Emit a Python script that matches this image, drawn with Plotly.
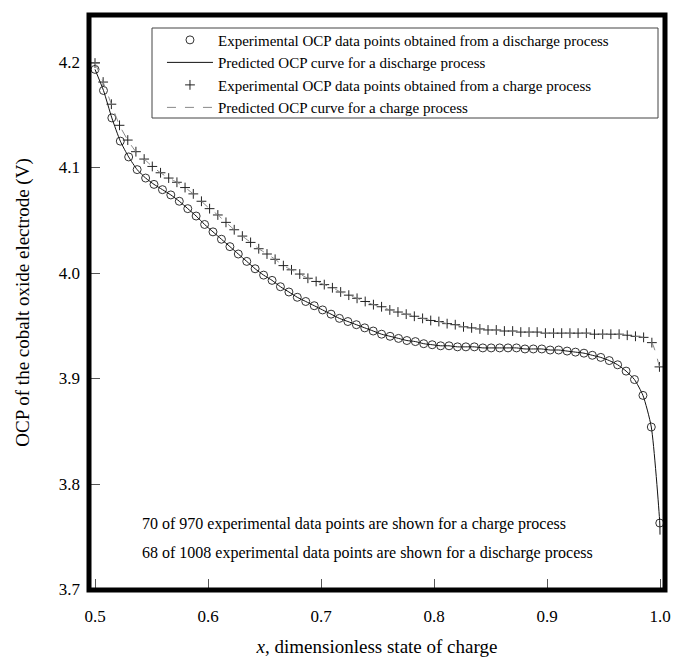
import plotly.graph_objects as go

# Experimental OCP, discharge process (68 shown points)
dis_x = [0.5000, 0.5075, 0.5149, 0.5224, 0.5298, 0.5373, 0.5448, 0.5522, 0.5597, 0.5671,
         0.5746, 0.5821, 0.5895, 0.5970, 0.6044, 0.6119, 0.6194, 0.6268, 0.6343, 0.6417,
         0.6492, 0.6567, 0.6641, 0.6716, 0.6790, 0.6865, 0.6940, 0.7014, 0.7089, 0.7163,
         0.7238, 0.7313, 0.7387, 0.7462, 0.7536, 0.7611, 0.7686, 0.7760, 0.7835, 0.7909,
         0.7984, 0.8059, 0.8133, 0.8208, 0.8282, 0.8357, 0.8432, 0.8506, 0.8581, 0.8655,
         0.8730, 0.8805, 0.8879, 0.8954, 0.9028, 0.9103, 0.9178, 0.9252, 0.9327, 0.9401,
         0.9476, 0.9551, 0.9625, 0.9700, 0.9774, 0.9849, 0.9923, 0.9998]
dis_y = [4.193, 4.173, 4.147, 4.125, 4.110, 4.098, 4.090, 4.084, 4.079, 4.074,
         4.068, 4.061, 4.054, 4.046, 4.039, 4.032, 4.025, 4.018, 4.011, 4.004,
         3.998, 3.993, 3.987, 3.982, 3.977, 3.973, 3.969, 3.965, 3.961, 3.957,
         3.954, 3.951, 3.948, 3.945, 3.942, 3.940, 3.938, 3.936, 3.935, 3.933,
         3.932, 3.931, 3.931, 3.930, 3.930, 3.930, 3.929, 3.929, 3.929, 3.929,
         3.929, 3.928, 3.928, 3.928, 3.927, 3.927, 3.926, 3.925, 3.924, 3.922,
         3.920, 3.917, 3.913, 3.907, 3.899, 3.884, 3.854, 3.763]

# Experimental OCP, charge process (70 shown points)
chg_x = [0.5000, 0.5072, 0.5145, 0.5217, 0.5290, 0.5362, 0.5435, 0.5507, 0.5580, 0.5652,
         0.5725, 0.5797, 0.5870, 0.5942, 0.6014, 0.6087, 0.6159, 0.6232, 0.6304, 0.6377,
         0.6449, 0.6522, 0.6594, 0.6667, 0.6739, 0.6812, 0.6884, 0.6957, 0.7029, 0.7101,
         0.7174, 0.7246, 0.7319, 0.7391, 0.7464, 0.7536, 0.7609, 0.7681, 0.7754, 0.7826,
         0.7899, 0.7971, 0.8043, 0.8116, 0.8188, 0.8261, 0.8333, 0.8406, 0.8478, 0.8551,
         0.8623, 0.8696, 0.8768, 0.8841, 0.8913, 0.8986, 0.9058, 0.9130, 0.9203, 0.9275,
         0.9348, 0.9420, 0.9493, 0.9565, 0.9638, 0.9710, 0.9783, 0.9855, 0.9928, 0.9995]
chg_y = [4.199, 4.181, 4.160, 4.140, 4.126, 4.115, 4.108, 4.101, 4.095, 4.090,
         4.086, 4.081, 4.075, 4.068, 4.061, 4.055, 4.048, 4.041, 4.035, 4.029,
         4.023, 4.018, 4.013, 4.007, 4.003, 3.999, 3.995, 3.992, 3.989, 3.986,
         3.982, 3.979, 3.976, 3.973, 3.970, 3.968, 3.965, 3.963, 3.961, 3.959,
         3.957, 3.955, 3.954, 3.952, 3.951, 3.949, 3.948, 3.947, 3.946, 3.946,
         3.945, 3.945, 3.944, 3.944, 3.944, 3.943, 3.943, 3.943, 3.943, 3.943,
         3.943, 3.942, 3.942, 3.942, 3.942, 3.941, 3.940, 3.939, 3.934, 3.911]

# Predicted OCP curves
pred_dis_x = dis_x + [1.0]
pred_dis_y = dis_y + [3.752]
pred_chg_x = chg_x
pred_chg_y = chg_y

x_ticks = [0.5, 0.6, 0.7, 0.8, 0.9, 1.0]
y_ticks = [3.7, 3.8, 3.9, 4.0, 4.1, 4.2]

FONT = "Liberation Serif, Times New Roman, serif"

fig = go.Figure()
fig.add_trace(go.Scatter(
    x=dis_x, y=dis_y, mode="markers",
    name="Experimental OCP data points obtained from a discharge process",
    marker=dict(symbol="circle-open", size=8, color="#333", line=dict(width=1, color="#333"))))
fig.add_trace(go.Scatter(
    x=pred_dis_x, y=pred_dis_y, mode="lines",
    name="Predicted OCP curve for a discharge process",
    line=dict(color="#111", width=1, shape="spline", smoothing=0.6)))
fig.add_trace(go.Scatter(
    x=chg_x, y=chg_y, mode="markers",
    name="Experimental OCP data points obtained from a charge process",
    marker=dict(symbol="cross-thin", size=7, color="#222", line=dict(width=1, color="#222"))))
fig.add_trace(go.Scatter(
    x=pred_chg_x, y=pred_chg_y, mode="lines",
    name="Predicted OCP curve for a charge process",
    line=dict(color="#888", width=1, dash="dash", shape="spline", smoothing=0.6)))

fig.update_layout(
    width=673, height=657,
    margin=dict(l=89, r=8, t=15, b=67, autoexpand=False),
    paper_bgcolor="white", plot_bgcolor="white",
    font=dict(family=FONT, size=16, color="black"),
    showlegend=True,
    legend=dict(
        x=0.1267, y=0.985, xanchor="left", yanchor="top",
        bgcolor="rgba(0,0,0,0)", borderwidth=0,
        font=dict(family=FONT, size=15, color="black"),
        itemwidth=46, tracegroupgap=0,
    ),
    xaxis=dict(
        range=[0.49469, 1.00442], tickvals=x_ticks, tickformat=".1f",
        ticks="inside", ticklen=11, tickwidth=1, tickcolor="#555",
        showgrid=False, zeroline=False, showline=False, automargin=False,
        tickfont=dict(family=FONT, size=17),
        title=dict(text="<i>x</i>, dimensionless state of charge",
                   font=dict(family=FONT, size=19), standoff=19),
        ticklabelstandoff=14,
    ),
    yaxis=dict(
        range=[3.69953, 4.24455], tickvals=y_ticks, tickformat=".1f",
        ticks="inside", ticklen=11, tickwidth=1, tickcolor="#555",
        showgrid=False, zeroline=False, showline=False, automargin=False,
        tickfont=dict(family=FONT, size=17),
        title=dict(text="OCP of the cobalt oxide electrode (V)",
                   font=dict(family=FONT, size=19), standoff=24),
        ticklabelstandoff=8,
    ),
    shapes=[
        dict(type="rect", xref="paper", yref="paper", x0=0, x1=1, y0=0, y1=1,
             line=dict(color="black", width=5), layer="above"),
        dict(type="rect", xref="paper", yref="paper",
             x0=(152 - 89) / 576, x1=(658 - 89) / 576,
             y0=(590 - 118) / 575, y1=(590 - 28) / 575,
             line=dict(color="#444", width=1), fillcolor="rgba(0,0,0,0)", layer="below"),
    ],
    annotations=[
        dict(text="70 of 970 experimental data points are shown for a charge process",
             xref="paper", yref="paper", x=(140 - 89) / 576, y=(590 - 524) / 575,
             xanchor="left", yanchor="middle", showarrow=False,
             font=dict(family=FONT, size=16)),
        dict(text="68 of 1008 experimental data points are shown for a discharge process",
             xref="paper", yref="paper", x=(140 - 89) / 576, y=(590 - 553) / 575,
             xanchor="left", yanchor="middle", showarrow=False,
             font=dict(family=FONT, size=16)),
    ],
)

fig.write_html("out.html")
